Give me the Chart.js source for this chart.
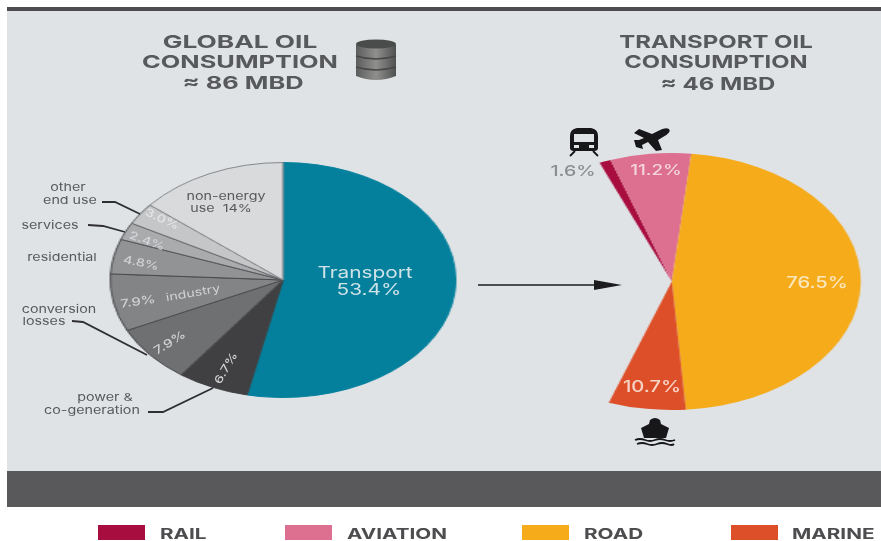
<!DOCTYPE html>
<html>
<head>
<meta charset="utf-8">
<script src="https://cdn.jsdelivr.net/npm/chart.js@4"></script>
<style>
  html, body { margin: 0; padding: 0; background: #fff; overflow: hidden; }
  #page { position: relative; width: 881px; height: 541px; font-family: Inter, "Open Sans", sans-serif; }
  .band { position: absolute; left: 7px; right: 0; }
  canvas { position: absolute; }
  svg { position: absolute; left: 0; top: 0; }
  .txt { position: absolute; white-space: pre; line-height: 1; }
  .swatch { position: absolute; top: 525px; width: 47px; height: 15px; }
</style>
</head>
<body>
<div id="page">
  <div class="band" style="top:7px;height:4px;background:#4d4d4f"></div>
  <div class="band" style="top:11px;height:460px;background:#e0e3e6"></div>
  <div class="band" style="top:471px;height:36px;background:#59595b"></div>
  <canvas id="globalPie" width="236" height="236"></canvas>
  <canvas id="transportPie" width="257" height="257"></canvas>
  <svg width="881" height="541" viewBox="0 0 881 541">
    <!-- leader lines -->
    <g fill="none" stroke="#2f2f31" stroke-width="1.8">
      <polyline points="102,202 115,202 140,214"/>
      <polyline points="88,225 103,226 125,232"/>
      <polyline points="72,321 83,322 147,355"/>
      <polyline points="148,412 163,412 213,388"/>
    </g>
    <!-- arrow between the pies -->
    <line x1="478" y1="285" x2="600" y2="285" stroke="#1c1c1e" stroke-width="1.6"/>
    <polygon points="594,280 622,285 594,290" fill="#1c1c1e"/>
    <!-- barrel -->
    <defs>
      <linearGradient id="barrel" x1="0" x2="1" y1="0" y2="0">
        <stop offset="0" stop-color="#5b5c5c"/>
        <stop offset="0.5" stop-color="#8f908e"/>
        <stop offset="1" stop-color="#4f5050"/>
      </linearGradient>
    </defs>
    <path d="M356,45 Q376,37 396,45 V76 Q376,84 356,76 Z" fill="url(#barrel)"/>
    <ellipse cx="376" cy="44" rx="20" ry="4.5" fill="#4a4b4b"/>
    <path d="M356,56 Q376,62 396,56 M356,67 Q376,73 396,67" fill="none" stroke="#464747" stroke-width="1.4"/>
    <!-- train -->
    <path fill-rule="evenodd" fill="#17171a" d="M577,128 H591 Q598,129 598,136 V148 Q598,151 594,151 H574 Q570,151 570,148 V136 Q570,129 577,128 Z M574,134 V142 H594 V134 Z M574,145 V148 H579 V145 Z M589,145 V148 H594 V145 Z"/>
    <path fill="none" stroke="#17171a" stroke-width="1.8" d="M575,151 L570,156 M593,151 L598,156"/>
    <!-- plane -->
    <path fill="#17171a" d="M669,129 Q672,132 663,137 L658,140 L662,150 L656,151 L648,142 L642,145 L643,149 L636,147 L634,140 L639,140 L644,138 L634,133 L639,129 L652,134 L658,131 Q665,127 669,129 Z"/>
    <!-- ship -->
    <path fill="#17171a" d="M650,420 Q655,416 660,420 L661,424 L669,428 L666,438 H644 L641,428 L649,424 Z"/>
    <path fill="none" stroke="#17171a" stroke-width="1.8" d="M635,440 Q640,438 645,440 T655,440 T665,440 T675,440 M637,444 Q642,442 647,444 T657,444 T667,444 T674,444"/>
  </svg>
  <div id="texts"></div>
</div>
<script>
const globalLabels = ['Transport', 'power & co-generation', 'conversion losses', 'industry', 'residential', 'services', 'other end use', 'non-energy use'];
const globalValues = [53.4, 6.7, 7.9, 7.9, 4.8, 2.4, 3.0, 14];
const globalColors = ['#04809c', '#403f41', '#6f7072', '#838486', '#929395', '#a9abad', '#c4c6c8', '#d8dadb'];

const transportLabels = ['RAIL', 'AVIATION', 'ROAD', 'MARINE'];
const transportValues = [1.6, 11.2, 76.5, 10.7];
const transportColors = ['#a80d3f', '#dd6f90', '#f5ab1a', '#dd4f28'];
const legendSwatchX = [98, 285, 522, 731];
const legendTextX = [160, 347, 584, 792];

const stretch = 1.47; // pies are drawn wider than tall

function makePie(id, labels, values, colors, borders, extra) {
    return new Chart(document.getElementById(id), {
        type: 'pie',
        data: {
            labels: labels,
            datasets: [{ data: values, backgroundColor: colors, borderColor: borders, borderWidth: extra.borderWidth }]
        },
        options: {
            responsive: false,
            animation: false,
            rotation: extra.rotation,
            circumference: extra.circumference,
            layout: { padding: 0 },
            plugins: { legend: { display: false }, tooltip: { enabled: false } }
        }
    });
}

// Put the pie centre on (cx, cy) and widen the canvas around it
function placePie(chart, cx, cy) {
    const arc = chart.getDatasetMeta(0).data[0];
    const c = chart.canvas;
    c.style.left = (cx - arc.x) + 'px';
    c.style.top = (cy - arc.y) + 'px';
    c.style.transformOrigin = arc.x + 'px ' + arc.y + 'px';
    c.style.transform = 'scaleX(' + stretch + ')';
}

const globalPie = makePie('globalPie', globalLabels, globalValues, globalColors,
    ['#04809c', '#403f41', '#4a4a4c', '#4a4a4c', '#4a4a4c', '#55565a', '#6a6b6e', '#85878a'],
    { rotation: 0, circumference: 360, borderWidth: 1 });
placePie(globalPie, 283, 280);

const transportPie = makePie('transportPie', transportLabels, transportValues, transportColors,
    transportColors,
    { rotation: -22.5, circumference: 222, borderWidth: 0 });
placePie(transportPie, 672, 281);

const pct = (v, d) => v.toFixed(d) + '%';
const grey = '#58595b';
const pale = '#cfd1d3';

// text, centre x, centre y, size, colour, weight, rotation, horizontal stretch
const textItems = [
    ['GLOBAL OIL', 240, 42, 18, grey, 700, 0, 1.46],
    ['CONSUMPTION', 240, 62, 18, grey, 700, 0, 1.41],
    ['\u2248 86 MBD', 243, 83, 18, grey, 700, 0, 1.41],
    ['TRANSPORT OIL', 716, 42, 18, grey, 700, 0, 1.33],
    ['CONSUMPTION', 716, 62, 18, grey, 700, 0, 1.32],
    ['\u2248 46 MBD', 718, 84, 18, grey, 700, 0, 1.33],
    ['Transport', 365, 272, 16, '#cfe2e8', 400],
    [pct(globalValues[0], 1), 369, 289, 16, '#cfe2e8', 400],
    ['non-energy', 226, 196, 11, grey, 400],
    ['use  ' + pct(globalValues[7], 0), 221, 208, 11, grey, 400],
    [pct(globalValues[6], 1), 162, 219, 11, '#e4e5e6', 500, 25],
    [pct(globalValues[5], 1), 147, 241, 11, '#d4d5d8', 500, 20],
    [pct(globalValues[4], 1), 141, 263, 11, pale, 500, 12],
    [pct(globalValues[3], 1), 138, 302, 11.5, pale, 500, -8],
    ['industry', 193, 293, 11, pale, 400, -10],
    [pct(globalValues[2], 1), 170, 343, 11.5, pale, 500, -32],
    [pct(globalValues[1], 1), 226, 368, 11, pale, 500, -60],
    ['other', 68, 187, 11, grey, 400],
    ['end use', 70, 200, 11, grey, 400],
    ['services', 50, 225, 11, grey, 400],
    ['residential', 62, 257, 11, grey, 400],
    ['conversion', 59, 309, 11, grey, 400],
    ['losses', 44, 321, 11, grey, 400],
    ['power &', 105, 397, 11, grey, 400],
    ['co-generation', 92, 410, 11, grey, 400],
    [pct(transportValues[0], 1), 573, 170, 15, '#8b8d90', 500],
    [pct(transportValues[1], 1), 656, 170, 14.5, '#f4d4df', 500],
    [pct(transportValues[2], 1), 817, 283, 15.5, '#fbe6bb', 500],
    [pct(transportValues[3], 1), 652, 387, 15.5, '#f7d3c5', 500]
];

const textBox = document.getElementById('texts');
textBox.innerHTML = textItems.map(t => `<div class="txt" style="left:${t[1]}px;top:${t[2]}px;font-size:${t[3]}px;color:${t[4]};font-weight:${t[5]};transform:translate(-50%,-50%) rotate(${t[6] || 0}deg) scaleX(${t[7] || 1.3})">${t[0].replace('&', '&amp;')}</div>`).join('');

// Legend row under the footer band
textBox.innerHTML += transportLabels.map((name, i) => `
    <div class="swatch" style="left:${legendSwatchX[i]}px;background:${transportColors[i]}"></div>
    <div class="txt" style="left:${legendTextX[i]}px;top:533px;font-size:15px;font-weight:700;color:#4d4d4f;transform-origin:0 50%;transform:translateY(-50%) scaleX(1.38)">${name}</div>
`).join('');
</script>
</body>
</html>
